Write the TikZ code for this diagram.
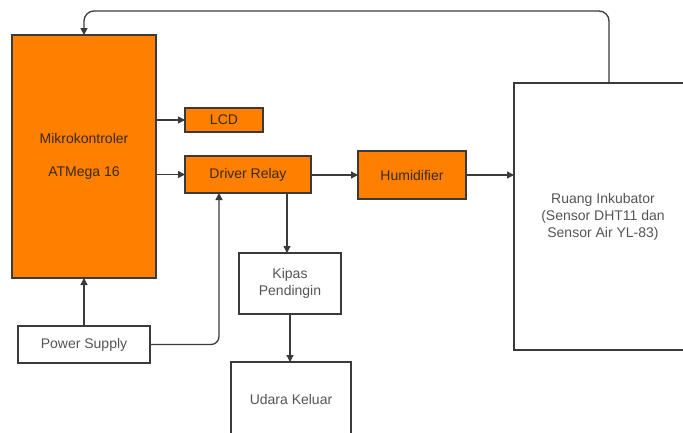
\documentclass[tikz,border=0pt]{standalone}
\usepackage{fontspec}
\setmainfont{Liberation Sans}
\usetikzlibrary{arrows.meta}
\definecolor{org}{HTML}{FF8000}
\definecolor{ln}{HTML}{3A3A3A}
\definecolor{gtxt}{HTML}{555555}
\definecolor{otxt}{HTML}{3A2A10}
\tikzset{
  box/.style={draw=ln, line width=1.3pt, rectangle, inner sep=0pt, outer sep=0pt, anchor=north west, align=center, font=\fontsize{14}{17}\selectfont},
  obox/.style={box, fill=org, text=otxt},
  wbox/.style={box, fill=white, text=gtxt},
  arr/.style={draw=ln, line width=1.3pt, -{Triangle[length=7pt,width=7pt]}}
}
\begin{document}
\begin{tikzpicture}[x=1pt,y=-1pt]
\useasboundingbox (0,0) rectangle (683,432);
\clip (0,0) rectangle (683,432);
\node[obox, minimum width=144, minimum height=243] (m) at (12,35) {Mikrokontroler\\[16pt]ATMega 16};
\node[obox, minimum width=78, minimum height=24] (lcd) at (185,108) {LCD};
\node[obox, minimum width=126, minimum height=37] (dr) at (185,156) {Driver Relay};
\node[obox, minimum width=108, minimum height=48] (hu) at (358,151) {Humidifier};
\node[wbox, minimum width=178, minimum height=267] (r) at (514,83) {Ruang Inkubator\\(Sensor DHT11 dan\\Sensor Air YL-83)};
\node[wbox, minimum width=102, minimum height=61] (kp) at (239,253) {Kipas\\Pendingin};
\node[wbox, minimum width=120, minimum height=74] (ud) at (231,362) {Udara Keluar};
\node[wbox, minimum width=132, minimum height=37] (ps) at (18,326) {Power Supply};
\coordinate (fbtop) at (0,11);
\draw[arr] (m.east |- lcd.west) -- (lcd.west);
\draw[arr] (m.east |- dr.west) -- (dr.west);
\draw[arr] (dr.east |- hu.west) -- (hu.west);
\draw[arr] (hu.east) -- (r.west |- hu.east);
\draw[arr, rounded corners=10pt] ([xshift=95pt]r.north west) |- (fbtop -| m.north) -- (m.north);
\draw[arr] (ps.north) -- (m.south);
\draw[arr, rounded corners=8pt] (ps.east) -| ([xshift=34pt]dr.south west);
\draw[arr] ([xshift=102pt]dr.south west) -- ([xshift=102pt]dr.south west |- kp.north);
\draw[arr] (kp.south) -- (kp.south |- ud.north);
\end{tikzpicture}
\end{document}
